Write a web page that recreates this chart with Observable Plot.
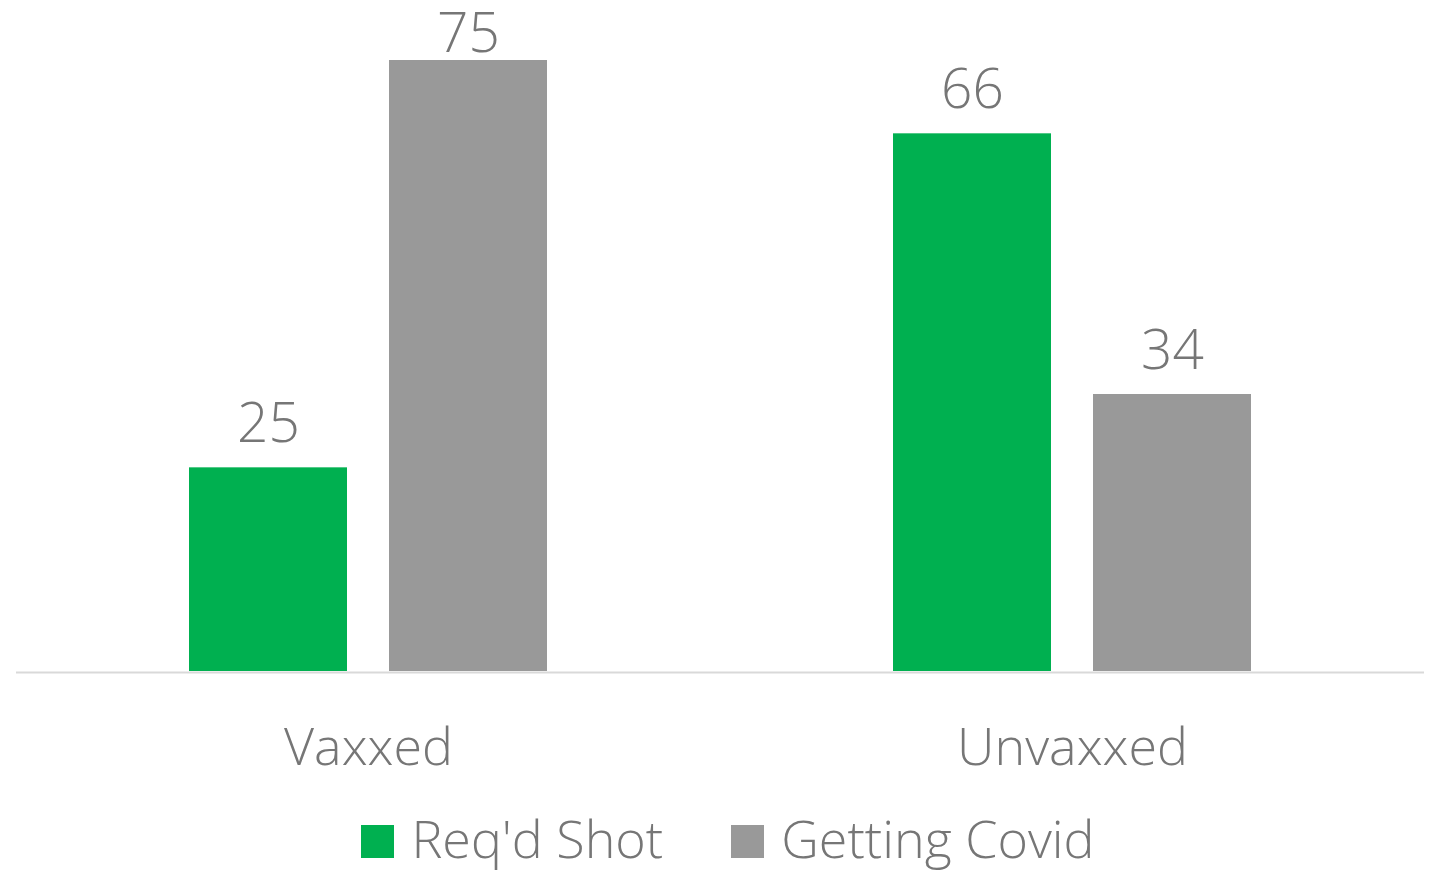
<!DOCTYPE html>
<html>
<head>
<meta charset="utf-8">
<script src="https://cdn.jsdelivr.net/npm/d3@7"></script>
<script src="https://cdn.jsdelivr.net/npm/@observablehq/plot@0.6"></script>
<style>
  html, body { margin: 0; padding: 0; background: #fff; }
  body { width: 1435px; height: 874px; overflow: hidden; font-family: "Open Sans", sans-serif; font-weight: 300; }
  #chart svg { display: block; font-weight: 300; }
  #legend { display: flex; justify-content: center; align-items: center; height: 74px; padding-left: 21px; color: #767676; font-size: 52px; font-weight: 300; }
  .item { display: flex; align-items: center; margin: 0 34px; }
  .sw { width: 33px; height: 33px; margin-right: 17px; margin-top: 8px; }
</style>
</head>
<body>
<div id="chart"></div>
<div id="legend"></div>
<script>
const groups = ["Vaxxed", "Unvaxxed"];
const series = ["Req'd Shot", "Getting Covid"];
const reqdShot = [25, 66];
const gettingCovid = [75, 34];
const colors = ["#00b050", "#999999"];
const labelCeiling = 72.9; // labels are kept inside the plot area

const data = [];
groups.forEach((g, i) => {
  data.push({group: g, series: series[0], value: reqdShot[i]});
  data.push({group: g, series: series[1], value: gettingCovid[i]});
});

const chart = Plot.plot({
  width: 1435,
  height: 800,
  marginLeft: 16,
  marginRight: 11,
  marginTop: 60,
  marginBottom: 129,
  style: {fontFamily: "'Open Sans', sans-serif", fontSize: "52px", color: "#767676", background: "#fff"},
  fx: {domain: groups, padding: 0, label: null, tickSize: 0, tickPadding: 57, axis: "bottom"},
  x: {domain: series, paddingInner: 0.21, paddingOuter: 0.865, axis: null},
  y: {domain: [0, 75], axis: null},
  color: {domain: series, range: colors},
  marks: [
    Plot.barY(data, {fx: "group", x: "series", y: "value", fill: "series"}),
    Plot.ruleY([0], {stroke: "#d9d9d9", strokeWidth: 2, dy: 1}),
    Plot.text(data, {
      fx: "group", x: "series",
      y: d => Math.min(d.value, labelCeiling),
      text: d => String(d.value),
      lineAnchor: "bottom", dy: -26,
      fontSize: 55, fill: "#767676"
    })
  ]
});
document.getElementById("chart").appendChild(chart);

const legend = document.getElementById("legend");
series.forEach((s, i) => {
  const item = document.createElement("div");
  item.className = "item";
  const sw = document.createElement("div");
  sw.className = "sw";
  sw.style.background = colors[i];
  const lab = document.createElement("span");
  lab.textContent = s;
  item.appendChild(sw);
  item.appendChild(lab);
  legend.appendChild(item);
});
</script>
</body>
</html>
